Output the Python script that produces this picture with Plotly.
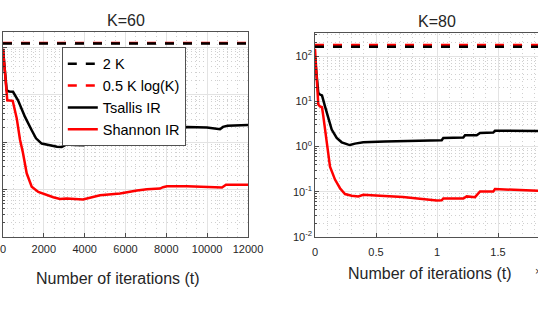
import plotly.graph_objects as go

# ---------------- data ----------------
K_values = [60, 80]
bound_2K = [120, 160]
bound_halfKlogK = [122.8, 175.3]

# K = 60
t60_tsallis = [0, 180, 300, 490, 735, 1078, 1406, 1616, 1895, 2302, 2645, 2875, 3120, 3500, 3933,
               4261, 4751, 5731, 6073, 6367, 7053, 7837, 8180, 9012, 9992, 10628, 10775, 11000, 12000]
v60_tsallis = [89, 12.3, 11.7, 11.5, 7.6, 3.4, 1.78, 1.2, 0.93, 0.84, 0.80, 0.79, 0.89, 0.87, 0.86,
               0.93, 1.14, 1.29, 1.32, 1.51, 1.66, 1.74, 2.04, 2.09, 2.04, 1.86, 2.09, 2.2, 2.29]
t60_shannon = [0, 210, 475, 671, 833, 965, 1161, 1406, 1729, 1974, 2464, 2792, 3120, 3918, 4408,
               4751, 5731, 6073, 6563, 7053, 7690, 7837, 8033, 9012, 9992, 10726, 10922, 12000]
v60_shannon = [93, 7.6, 7.4, 3.2, 1.12, 0.63, 0.22, 0.115, 0.089, 0.081, 0.069, 0.063, 0.065, 0.062, 0.069,
               0.076, 0.083, 0.089, 0.095, 0.102, 0.105, 0.112, 0.117, 0.117, 0.115, 0.110, 0.126, 0.126]

# K = 80
t80_tsallis = [0, 270, 410, 574, 820, 1090, 1369, 1779, 2189, 2730, 2869, 3279, 3959, 5738, 7213,
               9975, 10385, 10516, 12156, 12300, 13254, 13525, 14615, 14754, 18172, 20000]
v80_tsallis = [91, 15.3, 14.1, 13.5, 7.7, 4.3, 2.37, 1.55, 1.24, 1.10, 1.08, 1.16, 1.24, 1.30, 1.32,
               1.37, 1.38, 1.55, 1.58, 1.78, 1.78, 2.0, 2.04, 2.24, 2.24, 2.19]
t80_shannon = [0, 270, 410, 574, 680, 820, 959, 1230, 1639, 2049, 2459, 3008, 3549, 3959, 5328, 7213,
               9975, 10385, 10516, 12156, 12434, 13115, 13525, 14615, 14754, 18172, 20000]
v80_shannon = [145, 8.5, 7.7, 7.4, 4.7, 2.37, 1.01, 0.36, 0.186, 0.12, 0.089, 0.082, 0.079, 0.086, 0.082, 0.077,
               0.064, 0.065, 0.071, 0.071, 0.079, 0.076, 0.102, 0.102, 0.115, 0.102, 0.10]

x60_ticks = [0, 2000, 4000, 6000, 8000, 10000, 12000]
x60_ticktext = ["0", "2000", "4000", "6000", "8000", "10000", "12000"]
x80_ticks = [0, 5000, 10000, 15000]
x80_ticktext = ["0", "0.5", "1", "1.5"]
y_ticks = [0.01, 0.1, 1, 10, 100]
y_ticktext = ["10<sup>-2</sup>", "10<sup>-1</sup>", "10<sup>0</sup>", "10<sup>1</sup>", "10<sup>2</sup>"]
legend_names = ["2 K", "0.5 K log(K)", "Tsallis IR", "Shannon IR"]

# ---------------- figure ----------------
W, H = 538, 312
ML, MR, MT, MB = 3, 0, 32, 75
PW = W - ML - MR
PH = H - MT - MB
FONT = "Liberation Sans, Arial, sans-serif"
AX = "#262626"


def px_x(p):
    return (p - ML) / PW


def px_y(p):
    return (H - MB - p) / PH


fig = go.Figure()

x60_end = 12000
x80_end = 20000
DASH = "9px,9px"

# bounds (red first, black on top)
fig.add_trace(go.Scatter(x=[0, x60_end], y=[bound_halfKlogK[0]] * 2, mode="lines", name=legend_names[1],
                         line=dict(color="#ff0000", width=2.5, dash=DASH), legendrank=2,
                         xaxis="x", yaxis="y"))
fig.add_trace(go.Scatter(x=[0, x60_end], y=[bound_2K[0]] * 2, mode="lines", name=legend_names[0],
                         line=dict(color="#000000", width=2.5, dash=DASH), legendrank=1,
                         xaxis="x", yaxis="y"))
fig.add_trace(go.Scatter(x=t60_tsallis, y=v60_tsallis, mode="lines", name=legend_names[2],
                         line=dict(color="#000000", width=2.5), legendrank=3, xaxis="x", yaxis="y"))
fig.add_trace(go.Scatter(x=t60_shannon, y=v60_shannon, mode="lines", name=legend_names[3],
                         line=dict(color="#ff0000", width=2.5), legendrank=4, xaxis="x", yaxis="y"))

fig.add_trace(go.Scatter(x=[0, x80_end], y=[bound_halfKlogK[1]] * 2, mode="lines", showlegend=False,
                         line=dict(color="#ff0000", width=2.5, dash=DASH), xaxis="x2", yaxis="y2"))
fig.add_trace(go.Scatter(x=[0, x80_end], y=[bound_2K[1]] * 2, mode="lines", showlegend=False,
                         line=dict(color="#000000", width=2.5, dash=DASH), xaxis="x2", yaxis="y2"))
fig.add_trace(go.Scatter(x=t80_tsallis, y=v80_tsallis, mode="lines", showlegend=False,
                         line=dict(color="#000000", width=2.5), xaxis="x2", yaxis="y2"))
fig.add_trace(go.Scatter(x=t80_shannon, y=v80_shannon, mode="lines", showlegend=False,
                         line=dict(color="#ff0000", width=2.5), xaxis="x2", yaxis="y2"))

minor_log = [m * 10 ** e for e in range(-2, 3) for m in range(2, 10)]
GRID = "#e3e3e3"
MINOR = "#d0d0d0"
MDASH = "1px,3px"

common_x = dict(showline=True, linecolor=AX, linewidth=0.8, mirror=True, ticks="inside", ticklen=4,
                tickcolor=AX, tickwidth=0.8, showgrid=True, gridcolor=GRID, gridwidth=1, zeroline=False,
                tickfont=dict(size=11, color=AX, family=FONT), tickmode="array", automargin=False,
                ticklabeloverflow="allow")
common_y = dict(type="log", showline=True, linecolor=AX, linewidth=0.8, ticks="inside", ticklen=4,
                tickcolor=AX, tickwidth=0.8, showgrid=True, gridcolor=GRID, gridwidth=1, zeroline=False,
                tickfont=dict(size=11, color=AX, family=FONT), tickmode="array",
                tickvals=y_ticks, ticktext=y_ticktext, automargin=False,
                minor=dict(tickmode="array", tickvals=minor_log, ticks="inside", ticklen=2, tickcolor=AX,
                           showgrid=True, gridcolor=MINOR, griddash=MDASH, gridwidth=1))

fig.update_layout(
    template="none",
    width=W, height=H, autosize=False,
    margin=dict(l=ML, r=MR, t=MT, b=MB, pad=0, autoexpand=False),
    paper_bgcolor="white", plot_bgcolor="white",
    font=dict(family=FONT, color=AX),
    xaxis=dict(domain=[0, px_x(248)], range=[0, x60_end], tickvals=x60_ticks, ticktext=x60_ticktext,
               minor=dict(tickmode="array", tickvals=list(range(0, 12001, 500)), showgrid=True,
                          gridcolor=MINOR, griddash=MDASH, gridwidth=1, ticks=""),
               anchor="y", ticklabelstandoff=2, **common_x),
    yaxis=dict(domain=[0, 1], range=[-2, 2.32], anchor="x", mirror=True, showticklabels=False,
               **common_y),
    xaxis2=dict(domain=[px_x(315), 1], range=[0, (W - 315) / 122 * 10000], tickvals=x80_ticks,
                ticktext=x80_ticktext,
                minor=dict(tickmode="array", tickvals=list(range(0, 20001, 1000)), showgrid=True,
                           gridcolor=MINOR, griddash=MDASH, gridwidth=1, ticks=""),
                anchor="y2", ticklabelstandoff=5, **common_x),
    yaxis2=dict(domain=[0, px_y(33)], range=[-2, 2.51], anchor="x2", mirror=False, **common_y),
    showlegend=True,
    legend=dict(x=px_x(62), y=px_y(47), xanchor="left", yanchor="top", bgcolor="white",
                bordercolor=AX, borderwidth=0.8, font=dict(size=14.5, color="#000000", family=FONT),
                tracegroupgap=0, itemwidth=30),
)

anns = [
    dict(text="K=60", x=px_x(125.5), y=px_y(21), size=16),
    dict(text="K=80", x=px_x(437), y=px_y(22), size=16),
    dict(text="Number of iterations (t)", x=px_x(117.5), y=px_y(278), size=16),
    dict(text="Number of iterations (t)", x=px_x(430), y=px_y(273), size=16),
]
for a in anns:
    fig.add_annotation(text=a["text"], x=a["x"], y=a["y"], xref="paper", yref="paper",
                       showarrow=False, xanchor="center", yanchor="middle",
                       font=dict(size=a["size"], color=AX, family=FONT))
fig.add_annotation(text="×10<sup>4</sup>", x=px_x(533), y=px_y(270), xref="paper", yref="paper",
                   showarrow=False, xanchor="left", yanchor="middle",
                   font=dict(size=11, color=AX, family=FONT))

fig.write_html("out.html", config={"displayModeBar": False, "staticPlot": True},
               post_script="document.body.style.margin='0';document.body.style.padding='0';"
                           "document.body.style.overflow='hidden';")
